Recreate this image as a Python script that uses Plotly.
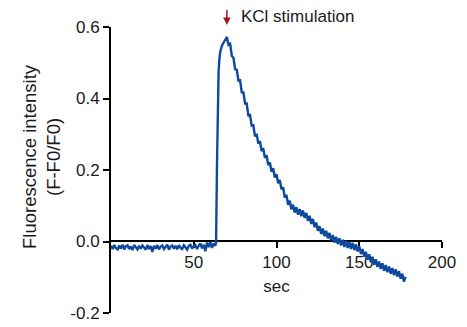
import plotly.graph_objects as go

# Time (sec) sampling grid: baseline, rise, decay
t_base = list(range(0, 64))
t_rise = [63.5, 64.0, 64.3, 64.6, 65.0, 65.5, 66.0, 67.0, 68.0, 69.0, 70.0]
t_decay = list(range(71, 179))

y_base = [-0.012, -0.021, -0.010, -0.019, -0.022, -0.011, -0.020, -0.009, -0.022, -0.013,
          -0.011, -0.021, -0.014, -0.024, -0.010, -0.017, -0.022, -0.012, -0.020, -0.011,
          -0.018, -0.023, -0.010, -0.021, -0.013, -0.029, -0.012, -0.020, -0.010, -0.022,
          -0.014, -0.011, -0.021, -0.013, -0.009, -0.023, -0.014, -0.011, -0.020, -0.012,
          -0.022, -0.010, -0.018, -0.021, -0.011, -0.017, -0.023, -0.012, -0.009, -0.020,
          -0.013, -0.010, -0.021, -0.012, -0.005, -0.019, -0.009, -0.027, -0.003, -0.016,
          -0.002, -0.018, -0.005, -0.012]
y_rise = [-0.004, 0.20, 0.33, 0.42, 0.475, 0.51, 0.53, 0.548, 0.556, 0.565, 0.572]
y_decay = [0.550, 0.553, 0.519, 0.514, 0.482, 0.480, 0.450, 0.451, 0.417, 0.417,
           0.386, 0.386, 0.353, 0.354, 0.324, 0.325, 0.294, 0.301, 0.274, 0.281,
           0.253, 0.261, 0.234, 0.242, 0.214, 0.221, 0.195, 0.205, 0.179, 0.188,
           0.163, 0.172, 0.146, 0.152, 0.123, 0.130, 0.103, 0.114, 0.090, 0.103,
           0.081, 0.096, 0.075, 0.091, 0.071, 0.087, 0.066, 0.080, 0.058, 0.072,
           0.049, 0.063, 0.040, 0.053, 0.030, 0.043, 0.021, 0.036, 0.015, 0.030,
           0.009, 0.024, 0.003, 0.018, -0.003, 0.013, -0.007, 0.009, -0.011, 0.005,
           -0.015, 0.002, -0.018, -0.001, -0.021, -0.004, -0.024, -0.008, -0.028, -0.013,
           -0.035, -0.021, -0.043, -0.029, -0.051, -0.036, -0.058, -0.043, -0.065, -0.050,
           -0.071, -0.056, -0.077, -0.061, -0.082, -0.066, -0.086, -0.070, -0.090, -0.074,
           -0.094, -0.078, -0.098, -0.083, -0.104, -0.090, -0.112, -0.099]

t = t_base + t_rise + t_decay
y = y_base + y_rise + y_decay

x_ticks = [50, 100, 150, 200]
y_ticks = [-0.2, 0.0, 0.2, 0.4, 0.6]
y_ticktext = ["-0.2", "0.0", "0.2", "0.4", "0.6"]

stim_time = 70
FONT = "Liberation Sans, Arial, sans-serif"

fig = go.Figure()
fig.add_trace(go.Scatter(x=t, y=y, mode="lines",
                         line=dict(color="#0D4A9E", width=2.4),
                         showlegend=False, hoverinfo="skip"))

fig.update_layout(
    width=459, height=319,
    margin=dict(l=103, r=25, t=19, b=14, autoexpand=False),
    paper_bgcolor="white", plot_bgcolor="white",
    font=dict(family=FONT, size=17, color="#1a1a1a"),
    xaxis=dict(range=[0, 200], anchor="free", position=0.2517,
               showline=True, linecolor="black", linewidth=2,
               ticks="outside", ticklen=6, tickwidth=2, tickcolor="black",
               tickvals=x_ticks, showgrid=False, zeroline=False,
               layer="below traces", automargin=False,
               title=dict(text="sec", standoff=8, font=dict(size=17))),
    yaxis=dict(range=[-0.2, 0.6], showline=True, linecolor="black", linewidth=2,
               ticks="outside", ticklen=6, tickwidth=2, tickcolor="black",
               tickvals=y_ticks, ticktext=y_ticktext, showgrid=False,
               zeroline=False, layer="below traces", automargin=False),
)

fig.add_annotation(text="Fluorescence intensity<br>(F-F0/F0)",
                   xref="paper", yref="paper", x=-0.2085, y=0.549,
                   textangle=-90, showarrow=False, xanchor="center", yanchor="middle",
                   font=dict(size=18.5))

fig.add_annotation(text="KCl stimulation", xref="x", yref="paper",
                   x=77.3, y=1.035, xanchor="left", yanchor="middle",
                   showarrow=False, font=dict(size=17))

fig.add_annotation(text=" ", xref="x", yref="paper", x=stim_time, y=1.007,
                   showarrow=True, ax=0, ay=-16, arrowhead=2, arrowsize=1,
                   arrowwidth=1.5, arrowcolor="#9B1B1B", standoff=0,
                   font=dict(size=1), borderpad=0)

fig.write_html("out.html")
